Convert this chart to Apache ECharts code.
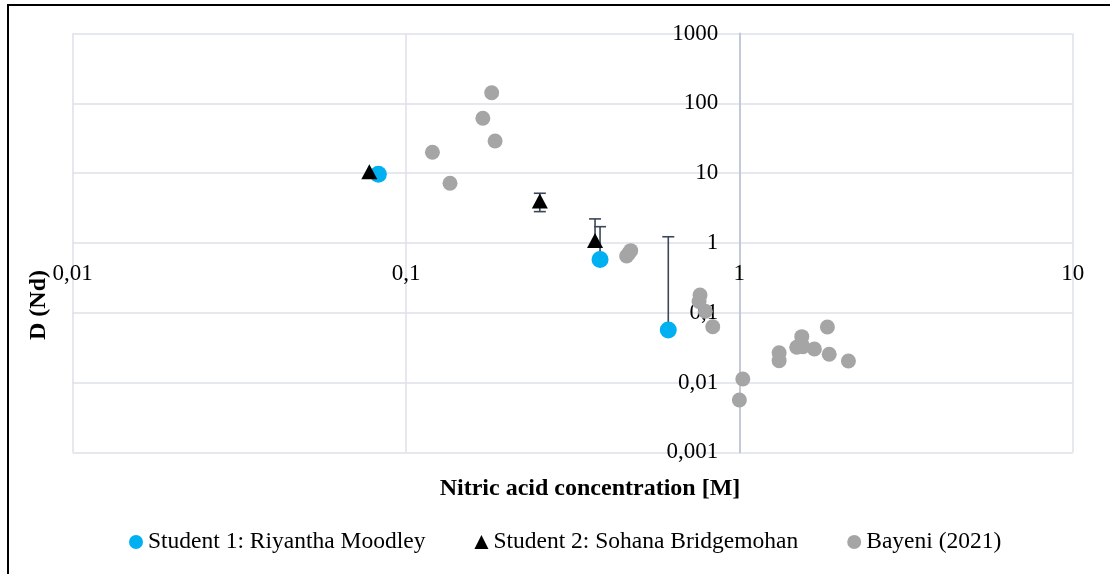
<!DOCTYPE html>
<html>
<head>
<meta charset="utf-8">
<title>D (Nd) vs nitric acid concentration</title>
<script src="https://cdn.jsdelivr.net/npm/echarts@6/dist/echarts.min.js"></script>
<style>
  html, body { margin: 0; padding: 0; background: #ffffff; }
  #chart { width: 1110px; height: 574px; }
</style>
</head>
<body>
<div id="chart"></div>
<script>
// Student 1: Riyantha Moodley
const student1X = [0.0826, 0.382, 0.612];
const student1Y = [9.64, 0.58, 0.0567];
const student1Err = [null, 1.13, 1.17];

// Student 2: Sohana Bridgemohan
const student2X = [0.0776, 0.252, 0.369];
const student2Y = [10.5, 3.98, 1.08];
const student2Err = [null, 1.17, 1.13];

// Bayeni (2021)
const bayeniX = [0.120, 0.1355, 0.1807, 0.170, 0.185, 0.459, 0.472, 0.466,
                 0.762, 0.757, 0.790, 0.832, 1.024, 1.000, 1.316, 1.316,
                 1.486, 1.539, 1.551, 1.679, 1.837, 1.860, 2.124];
const bayeniY = [19.9, 7.16, 142, 61.2, 28.9, 0.651, 0.776, 0.71,
                 0.18, 0.145, 0.105, 0.0632, 0.01126, 0.00563, 0.0268, 0.0206,
                 0.032, 0.0455, 0.0327, 0.0303, 0.0626, 0.0254, 0.0204];

const seriesNames = ['Student 1: Riyantha Moodley', 'Student 2: Sohana Bridgemohan', 'Bayeni (2021)'];

// Tick labels, indexed by decade exponent
const xTickLabels = { '-2': '0,01', '-1': '0,1', '0': '1', '1': '10' };
const yTickLabels = { '-3': '0,001', '-2': '0,01', '-1': '0,1', '0': '1', '1': '10', '2': '100', '3': '1000' };

const FONT = '"Liberation Serif", "Times New Roman", serif';

const zip = (xs, ys) => xs.map((x, i) => [x, ys[i]]);
const zipErr = (xs, ys, es) => xs.map((x, i) => [x, ys[i], es[i]]).filter(d => d[2] != null);

const GRID = { left: 72.7, top: 33.5, width: 1000, height: 418.9 };

// Vertical error bars; the lower half is skipped when it would fall at or below zero
function errorBars(xs, ys, es) {
  return {
    type: 'custom',
    data: zipErr(xs, ys, es),
    encode: { x: 0, y: 1 },
    silent: true,
    z: 2,
    renderItem: function (params, api) {
      const x = api.value(0), y = api.value(1), e = api.value(2);
      const mid = api.coord([x, y]);
      const hi = api.coord([x, y + e]);
      const lo = (y - e) > 0 ? api.coord([x, y - e]) : null;
      const half = 6;
      const style = { stroke: '#3d4759', lineWidth: 1.6, fill: null };
      const children = [
        { type: 'line', shape: { x1: hi[0], y1: hi[1], x2: hi[0], y2: lo ? lo[1] : mid[1] }, style: style },
        { type: 'line', shape: { x1: hi[0] - half, y1: hi[1], x2: hi[0] + half, y2: hi[1] }, style: style }
      ];
      if (lo) {
        children.push({ type: 'line', shape: { x1: lo[0] - half, y1: lo[1], x2: lo[0] + half, y2: lo[1] }, style: style });
      }
      return { type: 'group', children: children };
    }
  };
}

const chart = echarts.init(document.getElementById('chart'), null, { renderer: 'canvas' });

chart.setOption({
  animation: false,
  backgroundColor: '#ffffff',
  grid: Object.assign({ containLabel: false, outerBoundsMode: 'none' }, GRID),
  xAxis: {
    type: 'log',
    logBase: 10,
    min: 0.01,
    max: 10,
    position: 'bottom',
    // horizontal axis crosses at D = 1 (middle of six decades)
    offset: -GRID.height / 2,
    axisLine: { show: false },
    axisTick: { show: false },
    axisLabel: {
      margin: 20,
      fontFamily: FONT,
      fontSize: 23,
      color: '#000',
      formatter: v => xTickLabels[String(Math.round(Math.log10(v)))] || ''
    },
    splitLine: { show: true, lineStyle: { color: '#dde1ea', width: 1.5 } }
  },
  yAxis: {
    type: 'log',
    logBase: 10,
    min: 0.001,
    max: 1000,
    position: 'left',
    // vertical axis crosses at 1 M (two of three decades from the left)
    offset: -GRID.width * 2 / 3,
    axisLine: { show: true, lineStyle: { color: '#c2cad8', width: 2 } },
    axisTick: { show: false },
    axisLabel: {
      margin: 21,
      lineHeight: 23,
      padding: [5, 0, 0, 0],
      fontFamily: FONT,
      fontSize: 23,
      color: '#000',
      formatter: v => yTickLabels[String(Math.round(Math.log10(v)))] || ''
    },
    splitLine: { show: true, lineStyle: { color: '#dde1ea', width: 1.5 } }
  },
  legend: {
    data: [
      { name: seriesNames[0], icon: 'circle' },
      { name: seriesNames[1], icon: 'triangle' },
      { name: seriesNames[2], icon: 'circle' }
    ],
    left: 124,
    top: 525,
    itemWidth: 14,
    itemHeight: 14,
    itemGap: 49,
    selectedMode: false,
    textStyle: { fontFamily: FONT, fontSize: 23.5, color: '#000' }
  },
  graphic: [
    {
      type: 'rect',
      shape: { x: 8, y: 5, width: 1200, height: 700 },
      style: { fill: 'none', stroke: '#000', lineWidth: 2 },
      silent: true
    },
    {
      type: 'text',
      x: 590,
      y: 489,
      style: {
        text: 'Nitric acid concentration [M]',
        fontFamily: FONT, fontSize: 24, fontWeight: 'bold',
        fill: '#000', align: 'center', verticalAlign: 'middle'
      }
    },
    {
      type: 'text',
      x: 39,
      y: 305,
      rotation: Math.PI / 2,
      style: {
        text: 'D (Nd)',
        fontFamily: FONT, fontSize: 24, fontWeight: 'bold',
        fill: '#000', align: 'center', verticalAlign: 'middle'
      }
    }
  ],
  series: [
    errorBars(student1X, student1Y, student1Err),
    {
      name: seriesNames[0],
      type: 'scatter',
      data: zip(student1X, student1Y),
      symbol: 'circle',
      symbolSize: 17,
      itemStyle: { color: '#00b0f0', opacity: 1 },
      z: 3
    },
    errorBars(student2X, student2Y, student2Err),
    {
      name: seriesNames[1],
      type: 'scatter',
      data: zip(student2X, student2Y),
      symbol: 'triangle',
      symbolSize: [16, 15],
      itemStyle: { color: '#000000', opacity: 1 },
      z: 4
    },
    {
      name: seriesNames[2],
      type: 'scatter',
      data: zip(bayeniX, bayeniY),
      symbol: 'circle',
      symbolSize: 15,
      itemStyle: { color: '#a5a5a5', opacity: 1 },
      z: 5
    }
  ]
});
</script>
</body>
</html>
